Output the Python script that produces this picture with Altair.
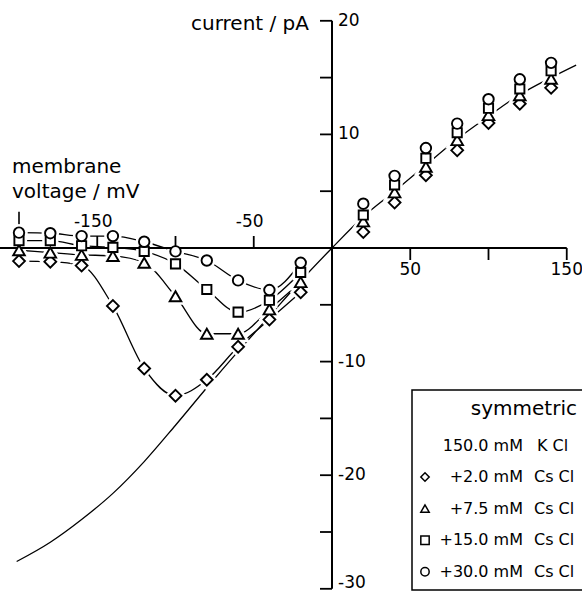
import altair as alt
import pandas as pd

# ---------------- data ----------------
V_NEG = [-200, -180, -160, -140, -120, -100, -80, -60, -40, -20]
V_POS = [20, 40, 60, 80, 100, 120, 140]
SERIES = ["+2.0 mM", "+7.5 mM", "+15.0 mM", "+30.0 mM"]
SHAPES = ["diamond", "triangle-up", "square", "circle"]
SIZES = [140, 135, 85, 110]

I_CS_2_0 = [-1.15, -1.2, -1.55, -5.1, -10.6, -13.0, -11.6, -8.7, -6.3, -3.9,
            1.4, 4.0, 6.4, 8.6, 11.0, 12.7, 14.1]
I_CS_7_5 = [-0.2, -0.4, -0.6, -0.7, -1.3, -4.25, -7.55, -7.55, -5.4, -3.0,
            2.35, 4.9, 7.15, 9.5, 11.7, 13.45, 14.9]
I_CS_15 = [0.65, 0.65, 0.2, 0.05, -0.3, -1.4, -3.65, -5.65, -4.6, -2.15,
           2.9, 5.55, 7.9, 10.15, 12.3, 14.0, 15.6]
I_CS_30 = [1.35, 1.3, 1.05, 1.05, 0.55, -0.3, -1.1, -2.85, -3.7, -1.3,
           3.9, 6.35, 8.8, 10.95, 13.1, 14.85, 16.3]
CURRENTS = [I_CS_2_0, I_CS_7_5, I_CS_15, I_CS_30]

# curve without Cs (symmetric KCl)
K_V = [-201.5, -180, -160, -140, -120, -100, -80, -60, -40, -20, 0,
       20, 40, 60, 80, 100, 120, 140, 156]
K_I = [-27.6, -25.9, -23.9, -21.6, -18.8, -15.6, -12.3, -9.1, -6.0, -2.9, 0,
       2.75, 5.0, 7.3, 9.6, 11.6, 13.5, 15.0, 16.1]

X_TICKS = [-150, -100, -50, 50, 100, 150]
X_LABELS_NEG = [-150, -50]
X_LABELS_POS = [50, 150]
Y_TICKS = [20, 15, 10, 5, -5, -10, -15, -20, -25, -30]
Y_LABELS = [20, 10, -10, -20]
Y_LABEL_BOTTOM = [-30]

# ---------------- geometry ----------------
W, H = 582, 594
PX_PER_MV = 1.565
X0_PX = 332.0
PX_PER_PA = 11.36
Y0_PX = 248.0
XMIN = -X0_PX / PX_PER_MV
XMAX = (W - X0_PX) / PX_PER_MV
YMAX = Y0_PX / PX_PER_PA
YMIN = -(H - Y0_PX) / PX_PER_PA
TICK_MV = 12 / PX_PER_MV
TICK_PA = 12 / PX_PER_PA

FONT = "DejaVu Sans"
XS = alt.Scale(domain=[XMIN, XMAX], nice=False, zero=False)
YS = alt.Scale(domain=[YMIN, YMAX], nice=False, zero=False)


def X(f):
    return alt.X(f, type="quantitative", scale=XS, axis=None)


def Y(f):
    return alt.Y(f, type="quantitative", scale=YS, axis=None)


# ---------------- tables ----------------
rows = []
for name, shp, sz, cur in zip(SERIES, SHAPES, SIZES, CURRENTS):
    for v, c in zip(V_NEG + V_POS, cur):
        rows.append({"series": name, "shape": shp, "sz": sz, "v": v, "c": c})
pts = pd.DataFrame(rows)
fit = pts[pts["v"] < 0]

kdf = pd.DataFrame({"v": K_V, "c": K_I})

# ---------------- layers ----------------
fit_lines = alt.Chart(fit).mark_line(
    interpolate="monotone", color="black", strokeWidth=1.3
).encode(x=X("v"), y=Y("c"), detail="series:N", order="v:Q")

k_line = alt.Chart(kdf).mark_line(
    interpolate="monotone", color="black", strokeWidth=1.3
).encode(x=X("v"), y=Y("c"), order="v:Q")

tick200 = alt.Chart(pd.DataFrame({"v": [-200], "c0": [0.0], "c1": [3.2]})).mark_rule(
    color="black", strokeWidth=1.6
).encode(x=X("v"), y=Y("c0"), y2="c1")

halo = alt.Chart(pts).mark_point(
    fill="white", stroke="white", strokeWidth=7, opacity=1, fillOpacity=1
).encode(
    x=X("v"), y=Y("c"),
    shape=alt.Shape("shape:N", scale=None),
    size=alt.Size("sz:Q", scale=None),
)

x_axis = alt.Chart(pd.DataFrame({"a": [XMIN], "b": [150], "c": [0.0]})).mark_rule(
    color="black", strokeWidth=2
).encode(x=X("a"), x2="b", y=Y("c"))

y_axis = alt.Chart(pd.DataFrame({"v": [0.0], "a": [20], "b": [-30]})).mark_rule(
    color="black", strokeWidth=2
).encode(x=X("v"), y=Y("a"), y2="b")

xt = pd.DataFrame({"v": X_TICKS})
xt["c0"] = 0.0
xt["c1"] = [TICK_PA if v < 0 else -TICK_PA for v in X_TICKS]
x_ticks = alt.Chart(xt).mark_rule(color="black", strokeWidth=1.8).encode(
    x=X("v"), y=Y("c0"), y2="c1")

yt = pd.DataFrame({"c": Y_TICKS})
yt["v0"] = 0.0
yt["v1"] = -TICK_MV
y_ticks = alt.Chart(yt).mark_rule(color="black", strokeWidth=1.8).encode(
    y=Y("c"), x=X("v0"), x2="v1")

markers = alt.Chart(pts).mark_point(
    fill="white", stroke="black", strokeWidth=1.9, opacity=1, fillOpacity=1
).encode(
    x=X("v"), y=Y("c"),
    shape=alt.Shape("shape:N", scale=None),
    size=alt.Size("sz:Q", scale=None),
)

xl_neg = pd.DataFrame({"v": X_LABELS_NEG, "t": [str(v) for v in X_LABELS_NEG], "c": 0.0})
x_lab_neg = alt.Chart(xl_neg).mark_text(
    font=FONT, fontSize=17, align="center", baseline="middle", dy=-26, dx=-4
).encode(x=X("v"), y=Y("c"), text="t:N")

xl_pos = pd.DataFrame({"v": X_LABELS_POS, "t": [str(v) for v in X_LABELS_POS], "c": 0.0})
x_lab_pos = alt.Chart(xl_pos).mark_text(
    font=FONT, fontSize=17, align="center", baseline="middle", dy=22
).encode(x=X("v"), y=Y("c"), text="t:N")

yl = pd.DataFrame({"c": Y_LABELS, "t": [str(c) for c in Y_LABELS], "v": 0.0})
y_lab = alt.Chart(yl).mark_text(
    font=FONT, fontSize=17, align="left", baseline="middle", dx=6
).encode(x=X("v"), y=Y("c"), text="t:N")

yl_b = pd.DataFrame({"c": Y_LABEL_BOTTOM, "t": [str(c) for c in Y_LABEL_BOTTOM], "v": 0.0})
y_lab_b = alt.Chart(yl_b).mark_text(
    font=FONT, fontSize=17, align="left", baseline="middle", dx=6, dy=-6
).encode(x=X("v"), y=Y("c"), text="t:N")

one = pd.DataFrame({"k": [0]})


def label(txt, x, y, align="left", size=20):
    return alt.Chart(one).mark_text(
        font=FONT, fontSize=size, align=align, baseline="middle", text=txt, color="black"
    ).encode(x=alt.value(x), y=alt.value(y))


t_current = label("current / pA", 309, 24, align="right")
t_membrane = label("membrane", 12, 167)
t_voltage = label("voltage / mV", 12, 192)

# legend
box = alt.Chart(one).mark_rect(fill="white", stroke="black", strokeWidth=1.5).encode(
    x=alt.value(412), x2=alt.value(600), y=alt.value(390), y2=alt.value(590))

leg_sym = label("symmetric", 577, 409, align="right", size=20)
leg_k1 = label("150.0 mM", 523, 446, align="right", size=16)
leg_k2 = label("K Cl", 537, 446, align="left", size=16)

leg = pd.DataFrame({"idx": list(range(len(SERIES))), "conc": SERIES, "shape": SHAPES})
leg["salt"] = "Cs Cl"
legbase = alt.Chart(leg).transform_calculate(py="477 + 31.6 * datum.idx")
leg_pts = legbase.mark_point(
    fill="white", stroke="black", strokeWidth=1.5, opacity=1, size=70
).encode(x=alt.value(425), y=alt.Y("py:Q", scale=None, axis=None),
         shape=alt.Shape("shape:N", scale=None))
leg_conc = legbase.mark_text(font=FONT, fontSize=16, align="right", baseline="middle").encode(
    x=alt.value(523), y=alt.Y("py:Q", scale=None, axis=None), text="conc:N")
leg_salt = legbase.mark_text(font=FONT, fontSize=16, align="left", baseline="middle").encode(
    x=alt.value(534), y=alt.Y("py:Q", scale=None, axis=None), text="salt:N")

chart = alt.layer(
    fit_lines, k_line, tick200, halo, x_axis, y_axis, x_ticks, y_ticks, markers,
    x_lab_neg, x_lab_pos, y_lab, y_lab_b, t_current, t_membrane, t_voltage,
    box, leg_sym, leg_k1, leg_k2, leg_pts, leg_conc, leg_salt,
).properties(
    width=W, height=H, padding=0,
    autosize=alt.AutoSizeParams(type="none"),
    background="white",
).configure_view(stroke=None)

chart.save("out.html", embed_options={"renderer": "svg", "actions": False})
